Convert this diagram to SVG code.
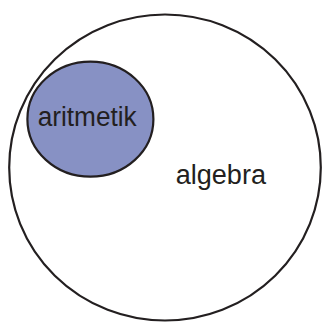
<svg xmlns="http://www.w3.org/2000/svg" width="322" height="323" viewBox="0 0 322 323">
  <style>
    .outline { stroke: #231f20; stroke-width: 2.2; }
    .label { font-family: "Liberation Sans", Arial, sans-serif; font-size: 27px; fill: #231f20; }
  </style>
  <rect width="322" height="323" fill="#ffffff"/>
  <g id="algebra">
    <ellipse class="outline" cx="165" cy="167.5" rx="155.8" ry="153" fill="#ffffff"/>
    <text class="label" x="175.7" y="184.3" textLength="90.3" lengthAdjust="spacingAndGlyphs">algebra</text>
  </g>
  <g id="aritmetik">
    <ellipse class="outline" cx="90.4" cy="119.2" rx="63" ry="57.5" fill="#8791c4"/>
    <text class="label" x="37.7" y="126" textLength="99" lengthAdjust="spacingAndGlyphs">aritmetik</text>
  </g>
  <g id="connectors"/>
</svg>
